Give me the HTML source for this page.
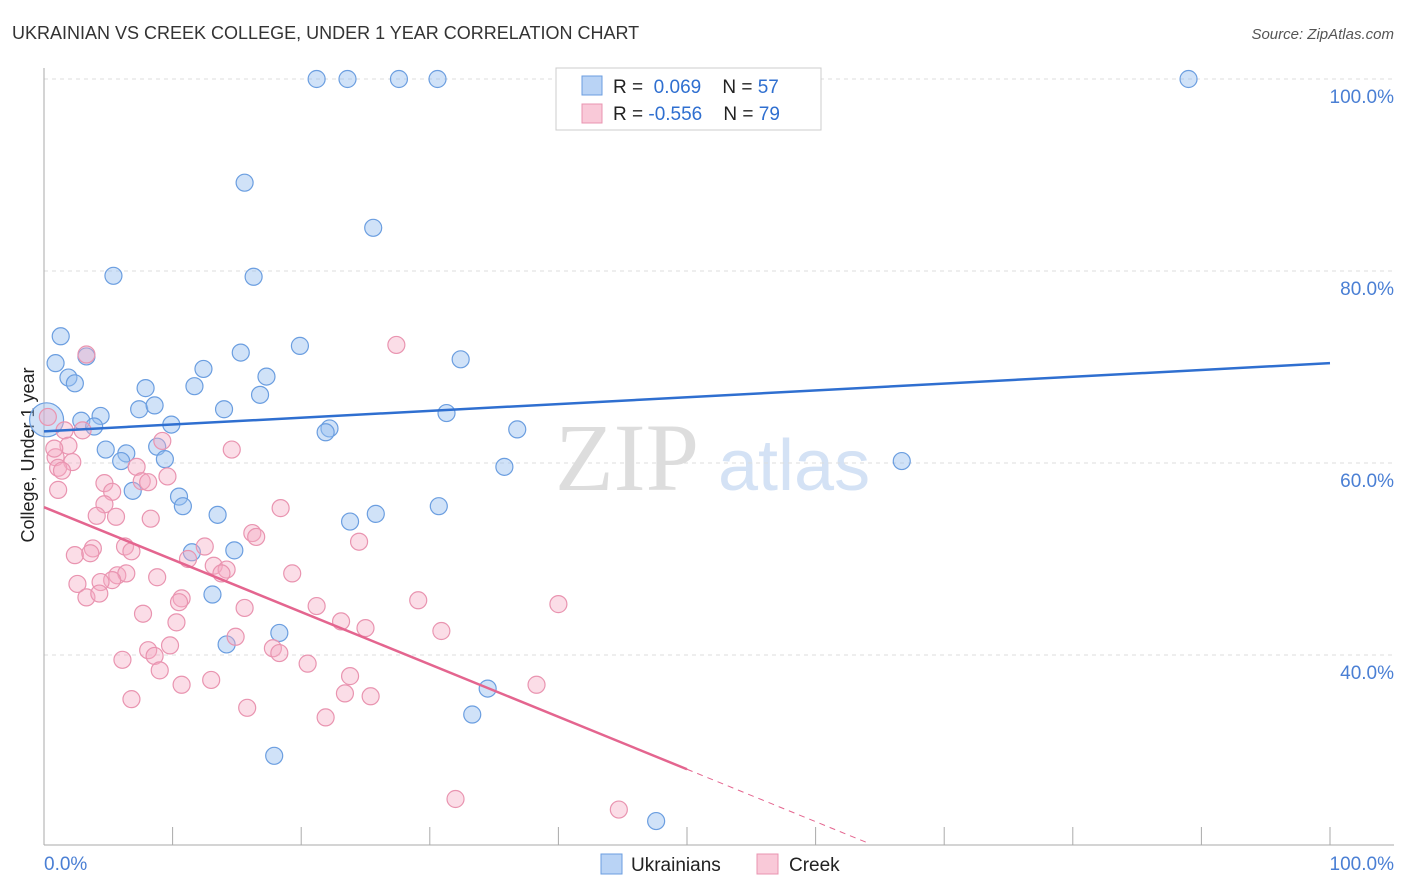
<!DOCTYPE html>
<html><head><meta charset="utf-8"><style>
body{margin:0;background:#fff;font-family:"Liberation Sans",sans-serif;overflow:hidden}
svg{display:block;overflow:hidden}
</style></head><body>
<svg id="c" width="1406" height="892" xmlns="http://www.w3.org/2000/svg">
<text x="12" y="39" font-size="18" fill="#333">UKRAINIAN VS CREEK COLLEGE, UNDER 1 YEAR CORRELATION CHART</text>
<text x="1394" y="39" font-size="15" fill="#555" font-style="italic" text-anchor="end">Source: ZipAtlas.com</text>
<text x="555" y="490" font-size="96" fill="#ddd" font-family="Liberation Serif">ZIP</text>
<text x="718" y="490" font-size="72" fill="#d4e2f5">atlas</text>
<text x="34" y="455" font-size="18" fill="#222" text-anchor="middle" transform="rotate(-90 34 455)">College, Under 1 year</text>
<g id="grid"></g><g id="pts"></g><g id="lines"></g>
<g>
<rect x="556" y="68" width="265" height="62" fill="#fff" stroke="#ccc"/>
<rect x="582" y="76" width="20" height="19" fill="#b9d3f5" stroke="#6b9ee0"/>
<rect x="582" y="104" width="20" height="19" fill="#f9c9d8" stroke="#e994b0"/>
<text x="613" y="93" font-size="19" fill="#222">R = <tspan fill="#2f6fd0">&#160;0.069</tspan>&#160;&#160;&#160; N = <tspan fill="#2f6fd0">57</tspan></text>
<text x="613" y="120" font-size="19" fill="#222">R = <tspan fill="#2f6fd0">-0.556</tspan>&#160;&#160;&#160; N = <tspan fill="#2f6fd0">79</tspan></text>
</g>
<g>
<rect x="601" y="854" width="21" height="20" fill="#b9d3f5" stroke="#6b9ee0"/>
<text x="631" y="871" font-size="19" fill="#222">Ukrainians</text>
<rect x="757" y="854" width="21" height="20" fill="#f9c9d8" stroke="#e994b0"/>
<text x="789" y="871" font-size="19" fill="#222">Creek</text>
</g>
<text x="44" y="870" font-size="19" fill="#4a7fd4">0.0%</text>
<text x="1394" y="870" font-size="19" fill="#4a7fd4" text-anchor="end">100.0%</text>
</svg>
<script>
const yTicks=[100,80,60,40];
const blueX=[21.2,23.6,27.6,30.6,89.0,15.6,25.6,5.4,16.3,1.3,0.9,3.3,15.3,19.9,32.4,1.9,2.4,12.4,17.3,7.9,11.7,16.8,7.4,8.6,14.0,4.4,2.9,3.9,31.3,9.9,22.2,21.9,36.8,4.8,6.4,8.8,9.4,6.0,35.8,66.7,6.9,10.5,10.8,13.5,25.8,23.8,30.7,11.5,14.8,13.1,18.3,14.2,34.5,33.3,17.9,47.6,0.2];
const blueY=[100,100,100,100,100,89.2,84.5,79.5,79.4,73.2,70.4,71.1,71.5,72.2,70.8,68.9,68.3,69.8,69.0,67.8,68.0,67.1,65.6,66.0,65.6,64.9,64.4,63.8,65.2,64.0,63.6,63.2,63.5,61.4,61.0,61.7,60.4,60.2,59.6,60.2,57.1,56.5,55.5,54.6,54.7,53.9,55.5,50.7,50.9,46.3,42.3,41.1,36.5,33.8,29.5,22.7,64.5];
const pinkX=[3.3,27.4,3.0,1.6,1.9,9.2,14.6,0.9,2.2,1.1,7.2,1.4,9.6,7.6,4.7,8.1,5.3,1.1,4.7,18.4,4.1,5.6,8.3,16.2,16.5,24.5,3.8,6.3,6.8,12.5,2.4,3.6,11.2,13.2,14.2,13.8,5.7,6.4,5.3,8.8,19.3,2.6,4.4,3.3,4.3,10.7,10.5,15.6,21.2,29.1,40.0,7.7,10.3,23.1,25.0,30.9,14.9,9.8,17.8,18.3,8.1,8.6,6.1,20.5,9.0,23.8,13.0,10.7,23.4,25.4,38.3,6.8,15.8,21.9,32.0,44.7,0.3,0.8];
const pinkY=[71.3,72.3,63.4,63.4,61.8,62.3,61.4,60.6,60.1,59.5,59.6,59.2,58.6,58.1,57.9,58.0,57.0,57.2,55.7,55.3,54.5,54.4,54.2,52.7,52.3,51.8,51.1,51.3,50.8,51.3,50.4,50.6,50.0,49.3,48.9,48.5,48.3,48.5,47.8,48.1,48.5,47.4,47.6,46.0,46.4,45.9,45.5,44.9,45.1,45.7,45.3,44.3,43.4,43.5,42.8,42.5,41.9,41.0,40.7,40.2,40.5,39.9,39.5,39.1,38.4,37.8,37.4,36.9,36.0,35.7,36.9,35.4,34.5,33.5,25.0,23.9,64.8,61.5];
const blueFit=[63.3,70.4];
const pinkFit=[55.4,0.8];
const NS='http://www.w3.org/2000/svg';
const X=v=>44+v*12.86, Y=v=>79+(100-v)*9.6;
function mk(t,a,p){const e=document.createElementNS(NS,t);for(const k in a)e.setAttribute(k,a[k]);p.appendChild(e);return e;}
const grid=document.getElementById('grid');
yTicks.forEach(t=>{
 const l=mk('line',{x1:44,x2:1394,y1:Y(t),y2:Y(t),stroke:'#ddd','stroke-dasharray':'4 4'},grid);
 
 
 const tx=mk('text',{x:1394,y:Y(t)+24,'font-size':19,fill:'#4a7fd4','text-anchor':'end'},grid);
 tx.textContent=t.toFixed(1)+'%';
 
 
});
const ax=mk('line',{x1:44,x2:44,y1:68,y2:845,stroke:'#aaa'},grid);


const bx=mk('line',{x1:44,x2:1394,y1:845,y2:845,stroke:'#aaa'},grid);


for(let i=0;i<=10;i++){const t=mk('line',{x1:X(i*10),x2:X(i*10),y1:827,y2:845,stroke:'#aaa'},grid);
 
 }
const pts=document.getElementById('pts');
blueX.forEach((v,i)=>{const c=mk('circle',{cx:X(v),cy:Y(blueY[i]),r:i==blueX.length-1?17:8.5,fill:'rgba(150,190,240,0.45)',stroke:'#6b9ee0','stroke-width':1.2},pts);
 
 });
pinkX.forEach((v,i)=>{const c=mk('circle',{cx:X(v),cy:Y(pinkY[i]),r:8.5,fill:'rgba(245,170,195,0.4)',stroke:'#e994b0','stroke-width':1.2},pts);
 
 });
const lines=document.getElementById('lines');
const bl=mk('line',{x1:X(0),y1:Y(blueFit[0]),x2:X(100),y2:Y(blueFit[1]),stroke:'#2f6fd0','stroke-width':2.5},lines);


const pf=x=>pinkFit[0]+(pinkFit[1]-pinkFit[0])*x/100;
const pl=mk('line',{x1:X(0),y1:Y(pf(0)),x2:X(50),y2:Y(pf(50)),stroke:'#e4658f','stroke-width':2.5},lines);


const pd=mk('line',{x1:X(50),y1:Y(pf(50)),x2:X(64.2),y2:Y(pf(64.2)),stroke:'#e4658f','stroke-width':1,'stroke-dasharray':'6 5'},lines);


</script>
</body></html>
